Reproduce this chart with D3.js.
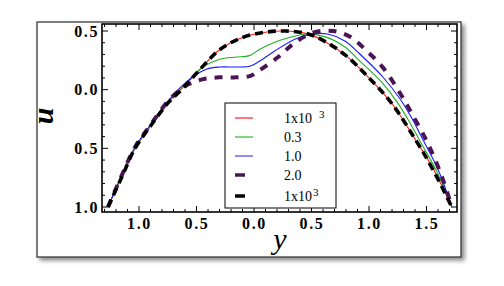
<!DOCTYPE html>
<html>
<head>
<meta charset="utf-8">
<script src="https://cdn.jsdelivr.net/npm/d3@7"></script>
<style>
  html, body { margin: 0; padding: 0; background: #fff; }
  svg { display: block; }
</style>
</head>
<body>
<div id="chart"></div>
<script>
// values: [y, u]
const seriesRed = [[-1.27, -1.0], [-1.15, -0.74], [-1.035, -0.5], [-0.9, -0.31], [-0.75, -0.11], [-0.63, 0.01], [-0.5, 0.14], [-0.3, 0.34], [-0.1, 0.445], [0.1, 0.49], [0.27, 0.5], [0.45, 0.48], [0.6, 0.42], [0.8, 0.29], [1.0, 0.1], [1.2, -0.12], [1.4, -0.42], [1.55, -0.66], [1.72, -1.0]];
const seriesGreen = [[-1.27, -1.0], [-1.15, -0.74], [-1.035, -0.5], [-0.9, -0.31], [-0.75, -0.11], [-0.63, 0.01], [-0.53, 0.12], [-0.45, 0.19], [-0.3, 0.26], [-0.15, 0.278], [-0.04, 0.29], [0.05, 0.345], [0.18, 0.405], [0.35, 0.455], [0.45, 0.475], [0.62, 0.45], [0.79, 0.364], [0.92, 0.244], [1.1, 0.074], [1.24, -0.1], [1.36, -0.29], [1.45, -0.45], [1.59, -0.7], [1.72, -1.0]];
const seriesBlue = [[-1.27, -1.0], [-1.15, -0.73], [-1.035, -0.49], [-0.9, -0.3], [-0.75, -0.1], [-0.64, 0.02], [-0.53, 0.11], [-0.41, 0.176], [-0.3, 0.193], [-0.15, 0.193], [-0.03, 0.202], [0.05, 0.244], [0.18, 0.33], [0.36, 0.432], [0.5, 0.474], [0.64, 0.474], [0.79, 0.415], [0.92, 0.304], [1.12, 0.108], [1.27, -0.08], [1.37, -0.24], [1.47, -0.43], [1.6, -0.68], [1.72, -1.0]];
const seriesPurple = [[-1.27, -1.0], [-1.15, -0.73], [-1.035, -0.49], [-0.9, -0.3], [-0.75, -0.1], [-0.64, 0.0], [-0.56, 0.05], [-0.44, 0.09], [-0.3, 0.105], [-0.15, 0.105], [-0.03, 0.118], [0.04, 0.16], [0.21, 0.278], [0.34, 0.389], [0.51, 0.485], [0.69, 0.5], [0.84, 0.449], [0.98, 0.33], [1.12, 0.19], [1.27, -0.03], [1.37, -0.2], [1.51, -0.455], [1.635, -0.745], [1.72, -1.0]];
const seriesBlack = [[-1.27, -1.0], [-1.15, -0.745], [-1.035, -0.5], [-0.9, -0.31], [-0.75, -0.115], [-0.63, 0.0], [-0.5, 0.14], [-0.3, 0.34], [-0.1, 0.445], [0.1, 0.49], [0.27, 0.5], [0.45, 0.48], [0.6, 0.42], [0.8, 0.29], [1.0, 0.1], [1.2, -0.12], [1.4, -0.42], [1.55, -0.67], [1.72, -1.0]];

const xTicks = [-1.0, -0.5, 0.0, 0.5, 1.0, 1.5];
const xTickLabels = ['1.0', '0.5', '0.0', '0.5', '1.0', '1.5'];
const yTicks = [0.5, 0.0, -0.5, -1.0];
const yTickLabels = ['0.5', '0.0', '0.5', '1.0'];

const legendItems = [
  { label: '1x10', sup: '3', supGap: 7, swatch: '#ff7b7b', width: 2, len: 18 },
  { label: '0.3', swatch: '#7fd47f', width: 2, len: 18 },
  { label: '1.0', swatch: '#8c8cff', width: 2, len: 18 },
  { label: '2.0', swatch: '#4b1455', width: 3.5, len: 10 },
  { label: '1x10', sup: '3', supGap: 1, swatch: '#000', width: 3.5, len: 10 },
];

const width = 504;
const height = 286;
const plot = { left: 102, top: 24, right: 457, bottom: 212 };
const serif = '"Liberation Serif", "DejaVu Serif", serif';

const svg = d3.select('#chart')
  .append('svg')
  .attr('width', width)
  .attr('height', height);

const defs = svg.append('defs');
defs.append('filter')
  .attr('id', 'shadow')
  .attr('x', '-5%').attr('y', '-5%')
  .attr('width', '115%').attr('height', '115%')
  .append('feDropShadow')
  .attr('dx', 3).attr('dy', 3)
  .attr('stdDeviation', 2.2)
  .attr('flood-color', '#000')
  .attr('flood-opacity', 0.45);

// outer framed panel
svg.append('rect')
  .attr('x', 37).attr('y', 22)
  .attr('width', 424).attr('height', 235)
  .attr('fill', '#fff')
  .attr('stroke', '#3a3a3a')
  .attr('stroke-width', 1.3)
  .attr('filter', 'url(#shadow)');

const x = d3.scaleLinear()
  .domain([-1.322, 1.765])
  .range([plot.left, plot.right]);

const y = d3.scaleLinear()
  .domain([-1.0426, 0.5597])
  .range([plot.bottom, plot.top]);

const xMinor = d3.range(-13, 18).map(d => d / 10);
const yMinor = d3.range(-10, 6).map(d => d / 10);

// ticks on all four sides, pointing inward
const isMajor = v => Math.abs(v * 2 - Math.round(v * 2)) < 1e-6;
const tickLen = v => (isMajor(v) ? 6 : 3);

const axes = svg.append('g').attr('stroke', '#000').attr('stroke-width', 1);

axes.selectAll('.tb').data(xMinor).join('line')
  .attr('x1', d => x(d)).attr('x2', d => x(d))
  .attr('y1', plot.bottom).attr('y2', d => plot.bottom - tickLen(d));
axes.selectAll('.tt').data(xMinor).join('line')
  .attr('x1', d => x(d)).attr('x2', d => x(d))
  .attr('y1', plot.top).attr('y2', d => plot.top + tickLen(d));
axes.selectAll('.tl').data(yMinor).join('line')
  .attr('y1', d => y(d)).attr('y2', d => y(d))
  .attr('x1', plot.left).attr('x2', d => plot.left + tickLen(d));
axes.selectAll('.tr').data(yMinor).join('line')
  .attr('y1', d => y(d)).attr('y2', d => y(d))
  .attr('x1', plot.right).attr('x2', d => plot.right - tickLen(d));

svg.append('rect')
  .attr('x', plot.left).attr('y', plot.top)
  .attr('width', plot.right - plot.left)
  .attr('height', plot.bottom - plot.top)
  .attr('fill', 'none')
  .attr('stroke', '#000')
  .attr('stroke-width', 1.6);

// tick labels through d3 axes (tick lines hidden, drawn above)
const xAxis = d3.axisBottom(x)
  .tickValues(xTicks)
  .tickSize(0)
  .tickPadding(6)
  .tickFormat((d, i) => xTickLabels[i]);

const yAxis = d3.axisLeft(y)
  .tickValues(yTicks)
  .tickSize(0)
  .tickPadding(3)
  .tickFormat((d, i) => yTickLabels[i]);

const gx = svg.append('g')
  .attr('transform', `translate(0, ${plot.bottom})`)
  .call(xAxis);
const gy = svg.append('g')
  .attr('transform', `translate(${plot.left}, 0)`)
  .call(yAxis);

[gx, gy].forEach(g => {
  g.select('.domain').remove();
  g.selectAll('text')
    .attr('font-family', serif)
    .attr('font-size', 16)
    .attr('font-weight', 'bold')
    .attr('letter-spacing', 1.6)
    .attr('fill', '#000');
});

// curves
const line = d3.line()
  .curve(d3.curveCatmullRom.alpha(0.5))
  .x(d => x(d[0]))
  .y(d => y(d[1]));

const curves = svg.append('g').attr('fill', 'none');

curves.append('path').datum(seriesRed)
  .attr('d', line).attr('stroke', '#ff1a1a').attr('stroke-width', 1.1);
curves.append('path').datum(seriesGreen)
  .attr('d', line).attr('stroke', '#1fb01f').attr('stroke-width', 1.1);
curves.append('path').datum(seriesBlue)
  .attr('d', line).attr('stroke', '#1a1aff').attr('stroke-width', 1.1);
curves.append('path').datum(seriesPurple)
  .attr('d', line).attr('stroke', '#4b1455').attr('stroke-width', 4)
  .attr('stroke-dasharray', '8,8');
curves.append('path').datum(seriesBlack)
  .attr('d', line).attr('stroke', '#000').attr('stroke-width', 3.6)
  .attr('stroke-dasharray', '8,5');

// axis titles
svg.append('text')
  .attr('transform', 'translate(53, 116) rotate(-90)')
  .attr('text-anchor', 'middle')
  .attr('font-family', serif)
  .attr('font-style', 'italic')
  .attr('font-weight', 'bold')
  .attr('font-size', 30)
  .text('u');

svg.append('text')
  .attr('x', 280).attr('y', 249)
  .attr('text-anchor', 'middle')
  .attr('font-family', serif)
  .attr('font-style', 'italic')
  .attr('font-size', 30)
  .text('y');

// legend
const legend = svg.append('g');
legend.append('rect')
  .attr('x', 225).attr('y', 103)
  .attr('width', 111).attr('height', 105)
  .attr('fill', '#fff')
  .attr('stroke', '#000')
  .attr('stroke-width', 1);

const rowY = [118, 137, 156, 175, 196];
legendItems.forEach((item, i) => {
  legend.append('line')
    .attr('x1', 235).attr('x2', 235 + item.len)
    .attr('y1', rowY[i]).attr('y2', rowY[i])
    .attr('stroke', item.swatch)
    .attr('stroke-width', item.width);
  const t = legend.append('text')
    .attr('x', 284).attr('y', rowY[i] + 5)
    .attr('font-family', serif)
    .attr('font-size', 14)
    .text(item.label);
  if (item.sup) {
    t.append('tspan')
      .attr('dx', item.supGap).attr('dy', -5)
      .attr('font-size', 11)
      .text(item.sup);
  }
});
</script>
</body>
</html>
